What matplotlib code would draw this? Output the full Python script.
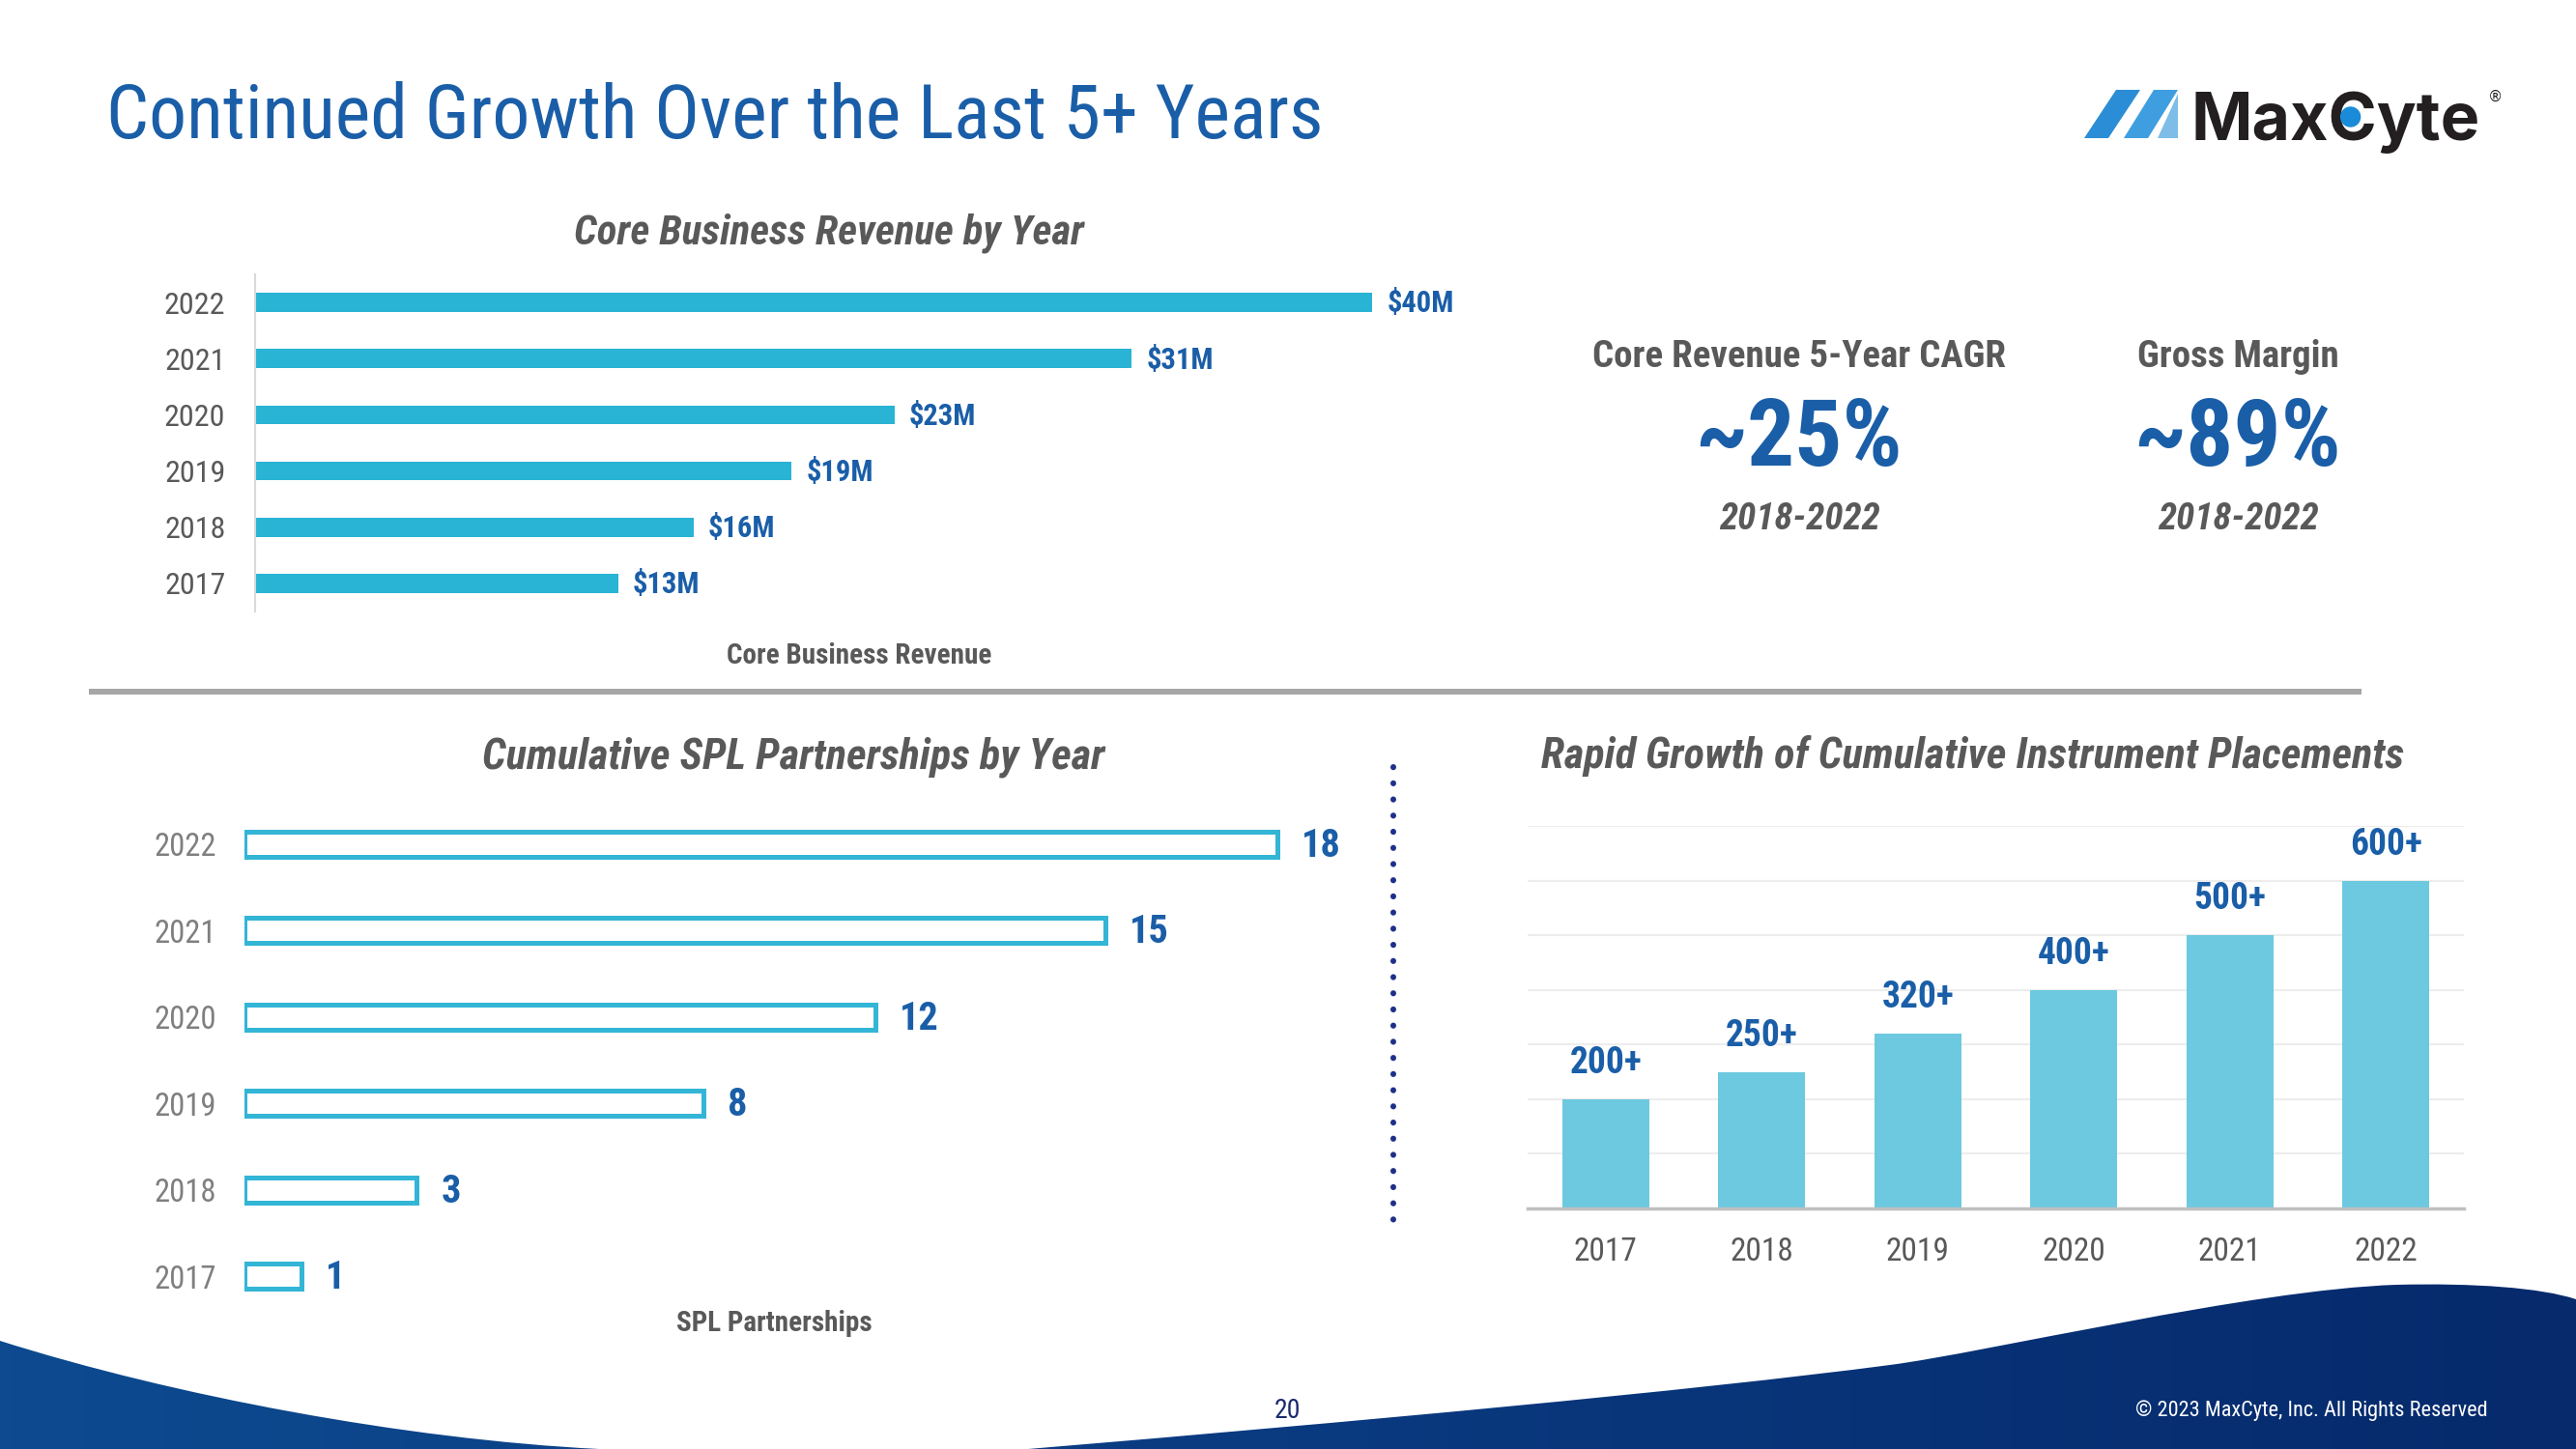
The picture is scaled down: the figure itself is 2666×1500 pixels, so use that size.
import numpy as np
import matplotlib
matplotlib.use("Agg")
import matplotlib.pyplot as plt
import matplotlib.font_manager as fm
from matplotlib.path import Path
from matplotlib.patches import PathPatch, Polygon, Circle
from matplotlib.colors import LinearSegmentedColormap

# ---------------- data ----------------
years = ["2017", "2018", "2019", "2020", "2021", "2022"]
core_revenue = [13.0, 15.7, 19.2, 22.9, 31.4, 40.0]          # $M (bar lengths)
core_revenue_labels = ["$13M", "$16M", "$19M", "$23M", "$31M", "$40M"]
spl_partnerships = [1, 3, 8, 11, 15, 18]                     # bar lengths
spl_labels = ["1", "3", "8", "12", "15", "18"]
instrument_placements = [200, 250, 320, 400, 500, 600]
instrument_labels = ["200+", "250+", "320+", "400+", "500+", "600+"]
stat_titles = ["Core Revenue 5-Year CAGR", "Gross Margin"]
stat_values = ["~25%", "~89%"]
stat_periods = ["2018-2022", "2018-2022"]

# ---------------- fonts ----------------
names = {f.name for f in fm.fontManager.ttflist}
if "Roboto Condensed" in names:
    FONT, SC = "Roboto Condensed", 1.0
elif "Liberation Sans Narrow" in names:
    FONT, SC = "Liberation Sans Narrow", 1.0
else:
    FONT, SC = "Roboto", 0.86
plt.rcParams["font.family"] = [FONT, "DejaVu Sans"]

BLUE = "#1A5EA8"
GRAY = "#595959"
CYAN = "#29B3D4"

W, H = 2666, 1500
fig = plt.figure(figsize=(W / 100, H / 100), dpi=100)
fig.patch.set_facecolor("white")

ax_bg = fig.add_axes([0, 0, 1, 1])
ax_bg.set_xlim(0, W)
ax_bg.set_ylim(H, 0)
ax_bg.axis("off")
ax_bg.set_zorder(0)


def add_ax(x0, y0, x1, y1):
    ax = fig.add_axes([x0 / W, 1 - y1 / H, (x1 - x0) / W, (y1 - y0) / H])
    ax.set_zorder(1)
    ax.patch.set_alpha(0)
    return ax


def T(x, y, s, size, color=GRAY, weight="normal", style="normal", ha="center", va="center", **kw):
    return ax_bg.text(x, y, s, fontsize=size * SC, color=color, fontweight=weight,
                      fontstyle=style, ha=ha, va=va, **kw)


# ---------------- header ----------------
T(110, 122, "Continued Growth Over the Last 5+ Years", 56, color=BLUE, ha="left")

# logo
ax_bg.add_patch(Polygon([(2157, 143), (2182, 143), (2215, 93), (2190, 93)], closed=True,
                        color="#2A8DD6", lw=0))
ax_bg.add_patch(Polygon([(2198, 143), (2223, 143), (2254, 93), (2229, 93)], closed=True,
                        color="#3F9EDF", lw=0))
ax_bg.add_patch(Polygon([(2233, 143), (2254, 143), (2254, 97)], closed=True,
                        color="#7DBDE8", lw=0))
logo_kw = dict(fontsize=49, fontweight="bold", color="#231F20", family=["Inter", "DejaVu Sans"],
               ha="left", va="baseline")
logo = ax_bg.text(2268, 145, "MaxCyte", **logo_kw)
fig.canvas.draw()
r = fig.canvas.get_renderer()
tmp1 = ax_bg.text(2268, 145, "Max", **logo_kw)
tmp2 = ax_bg.text(2268, 145, "MaxC", **logo_kw)
e1 = tmp1.get_window_extent(r)
e2 = tmp2.get_window_extent(r)
tmp1.remove()
tmp2.remove()
cx = (e1.x1 + e2.x1) / 2
ax_bg.add_patch(Circle((cx - 3, 121), 10, color="#1A8BD8", zorder=5))
ext = logo.get_window_extent(r)
ax_bg.text(ext.x1 + 8, 100, "®", fontsize=11, color="#231F20", ha="left", va="center",
           family=["DejaVu Sans"])

# ---------------- top-left: core revenue ----------------
T(858, 241, "Core Business Revenue by Year", 31, weight="bold", style="italic")
ax1 = add_ax(264, 284, 264 + 44 * 28.9, 633)
ypos = np.arange(len(years))
ax1.barh(ypos, core_revenue, height=0.34, color=CYAN)
ax1.set_xlim(0, 44)
ax1.set_ylim(-0.5, 5.5)
ax1.set_yticks(ypos, years)
ax1.set_xticks([])
ax1.tick_params(axis="y", length=0, pad=22, labelsize=23 * SC, labelcolor=GRAY)
for s in ["top", "right", "bottom"]:
    ax1.spines[s].set_visible(False)
ax1.spines["left"].set_color("#D9D9D9")
ax1.spines["left"].set_linewidth(1.5)
for i, (v, lab) in enumerate(zip(core_revenue, core_revenue_labels)):
    ax1.annotate(lab, (v, i), xytext=(11, -1), textcoords="offset points", ha="left",
                 va="center", fontsize=22 * SC, fontweight="bold", color=BLUE)
T(889, 679, "Core Business Revenue", 21, weight="bold")

# ---------------- top-right: stats ----------------
for cxs, tt, vv, pp in zip([1862, 2316], stat_titles, stat_values, stat_periods):
    T(cxs, 370, tt, 28, weight="bold")
    T(cxs, 456, vv, 70, color=BLUE, weight="bold")
    T(cxs, 537, pp, 28, weight="bold", style="italic")

# divider
ax_bg.plot([92, 2444], [716, 716], color="#A6A6A6", lw=4.3, solid_capstyle="butt")

# ---------------- bottom-left: SPL partnerships ----------------
T(821, 784, "Cumulative SPL Partnerships by Year", 32, weight="bold", style="italic")
ax2 = add_ax(253, 829, 253 + 20 * 59.4, 1366)
ax2.barh(ypos, spl_partnerships, height=0.29, facecolor="white", edgecolor="#33B5D6",
         linewidth=3.6)
ax2.set_xlim(0, 20)
ax2.set_ylim(-0.5, 5.5)
ax2.set_yticks(ypos, years)
ax2.set_xticks([])
ax2.tick_params(axis="y", length=0, pad=21, labelsize=23.5 * SC, labelcolor="#7F7F7F")
for s in ax2.spines.values():
    s.set_visible(False)
for i, (v, lab) in enumerate(zip(spl_partnerships, spl_labels)):
    ax2.annotate(lab, (v, i), xytext=(18, -1.5), textcoords="offset points", ha="left",
                 va="center", fontsize=29 * SC, fontweight="bold", color=BLUE)
T(801, 1370, "SPL Partnerships", 21, weight="bold")

# dotted separator
ax_bg.plot([1442, 1442], [794, 1266], color="#1F2F8A", lw=4.3, linestyle=(0, (0.05, 2.75)),
           dash_capstyle="round")

# ---------------- bottom-right: instrument placements ----------------
T(2042, 782, "Rapid Growth of Cumulative Instrument Placements", 32, weight="bold",
  style="italic")
ax3 = add_ax(1581, 855, 2550, 1251)
xpos = np.arange(len(years))
ax3.bar(xpos, instrument_placements, width=0.56, color="#6CC9E0", zorder=2)
ax3.set_xlim(-0.5, 5.5)
ax3.set_ylim(0, 700)
ax3.set_yticks(np.arange(0, 701, 100))
ax3.tick_params(axis="y", length=0, labelleft=False)
ax3.grid(axis="y", color="#EDEDED", lw=1.6, zorder=0)
ax3.set_xticks(xpos, years)
ax3.tick_params(axis="x", length=0, pad=21, labelsize=24 * SC, labelcolor=GRAY)
for s in ["top", "right", "left"]:
    ax3.spines[s].set_visible(False)
ax3.spines["bottom"].set_color("#BFBFBF")
ax3.spines["bottom"].set_linewidth(2.5)
ax3.spines["bottom"].set_zorder(3)
for i, (v, lab) in enumerate(zip(instrument_placements, instrument_labels)):
    ax3.annotate(lab, (i, v), xytext=(0, 27), textcoords="offset points", ha="center",
                 va="center", fontsize=27 * SC, fontweight="bold", color=BLUE)

# ---------------- footer waves ----------------
C4 = Path.CURVE4
left_path = Path([(0, 1388), (180, 1445), (420, 1490), (620, 1500), (0, 1500), (0, 1388)],
                 [Path.MOVETO, C4, C4, C4, Path.LINETO, Path.CLOSEPOLY])
right_path = Path([(1064, 1500),
                   (1400, 1472), (1750, 1440), (1956, 1413),
                   (2056, 1400), (2330, 1335), (2480, 1330),
                   (2560, 1328), (2630, 1333), (2666, 1345),
                   (2666, 1500), (1064, 1500)],
                  [Path.MOVETO, C4, C4, C4, C4, C4, C4, C4, C4, C4,
                   Path.LINETO, Path.CLOSEPOLY])
cmap = LinearSegmentedColormap.from_list("wave", ["#0D4A8F", "#0A3A80", "#062A6C"])
grad = np.linspace(0, 1, 512).reshape(1, -1)
for p in (left_path, right_path):
    patch = PathPatch(p, facecolor="none", edgecolor="none")
    ax_bg.add_patch(patch)
    im = ax_bg.imshow(grad, extent=[0, W, H, 1300], cmap=cmap, aspect="auto",
                      interpolation="bilinear", zorder=1)
    im.set_clip_path(patch)
ax_bg.set_xlim(0, W)
ax_bg.set_ylim(H, 0)

T(1333, 1460, "20", 20, color="#1C2A6E")
T(2575, 1460, "© 2023 MaxCyte, Inc. All Rights Reserved", 16, color="white", ha="right")

fig.savefig("out.png", dpi=100, facecolor="white")
